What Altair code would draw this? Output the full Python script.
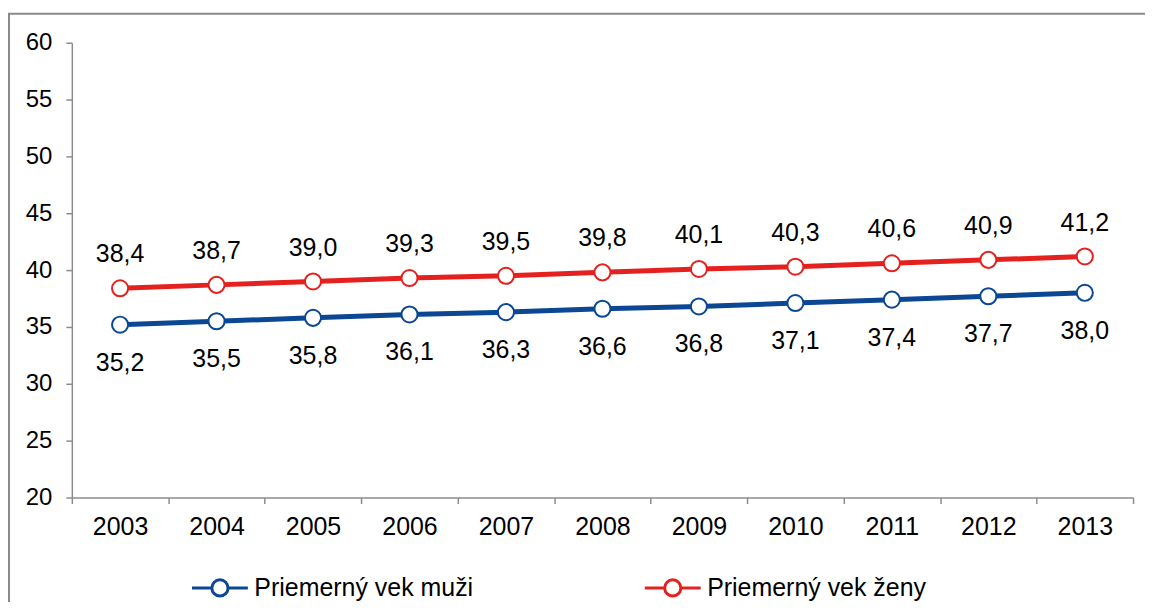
import altair as alt
import pandas as pd

years = ["2003", "2004", "2005", "2006", "2007", "2008", "2009", "2010", "2011", "2012", "2013"]
men = [35.2, 35.5, 35.8, 36.1, 36.3, 36.6, 36.8, 37.1, 37.4, 37.7, 38.0]
women = [38.4, 38.7, 39.0, 39.3, 39.5, 39.8, 40.1, 40.3, 40.6, 40.9, 41.2]
series_names = ["Priemerný vek muži", "Priemerný vek ženy"]
colors = ["#0B4792", "#E4211E"]
y_ticks = [20, 25, 30, 35, 40, 45, 50, 55, 60]

df = pd.DataFrame({
    "rok": years * 2,
    "seria": [series_names[0]] * len(years) + [series_names[1]] * len(years),
    "hodnota": men + women,
})

FONT = "Liberation Sans"
FS = 25
W, H = 1064, 456

x_enc = alt.X("rok:N", sort=years,
              scale=alt.Scale(type="band", paddingInner=0, paddingOuter=0),
              axis=alt.Axis(title=None, labelAngle=0, tickBand="extent", labelFontSize=FS,
                            labelFont=FONT, labelColor="#000000", domainColor="#8C8C8C",
                            tickColor="#8C8C8C", domainWidth=1.5, tickWidth=1.5, tickSize=6,
                            labelPadding=11))
y_enc = alt.Y("hodnota:Q",
              scale=alt.Scale(domain=[20, 60], nice=False, zero=False),
              axis=alt.Axis(title=None, values=y_ticks, grid=False, labelFontSize=24,
                            labelFont=FONT, labelColor="#000000", domainColor="#8C8C8C",
                            tickColor="#8C8C8C", domainWidth=1.5, tickWidth=1.5, tickSize=6,
                            labelPadding=14))

sym_path = ("M-1,0L-0.29,0M0.29,0L1,0"
            "M0.29,0A0.29,0.29,0,1,1,-0.29,0A0.29,0.29,0,1,1,0.29,0Z")

color_scale = alt.Scale(domain=series_names, range=colors)

base = alt.Chart(df)

lines = base.mark_line(strokeWidth=5).encode(
    x=x_enc, y=y_enc,
    color=alt.Color("seria:N", scale=color_scale,
                    legend=alt.Legend(orient="none", legendX=119, legendY=517,
                                      direction="horizontal", title=None,
                                      symbolType=sym_path, symbolSize=3136,
                                      symbolStrokeWidth=3, symbolFillColor="white",
                                      labelFontSize=FS, labelFont=FONT, labelColor="#000000",
                                      labelLimit=0, labelOffset=5, columnPadding=165,
                                      padding=0)),
)

points = base.mark_point(filled=False, fill="white", size=260, strokeWidth=2, opacity=1).encode(
    x=x_enc, y=y_enc,
    color=alt.Color("seria:N", scale=color_scale, legend=None),
)

label_expr = "replace(format(datum.hodnota, '.1f'), '.', ',')"

labels_w = base.transform_filter(alt.datum.seria == series_names[1]).transform_calculate(
    lab=label_expr).mark_text(dy=-34, fontSize=FS, font=FONT, color="#000000").encode(
    x=x_enc, y=y_enc, text="lab:N")

labels_m = base.transform_filter(alt.datum.seria == series_names[0]).transform_calculate(
    lab=label_expr).mark_text(dy=38, fontSize=FS, font=FONT, color="#000000").encode(
    x=x_enc, y=y_enc, text="lab:N")

frame = alt.Chart(pd.DataFrame({"k": [0]})).mark_rect(
    fill=None, stroke="#8A8A8A", strokeWidth=2).encode(
    x=alt.value(-63), x2=alt.value(1300), y=alt.value(-29), y2=alt.value(800))

chart = alt.layer(frame, lines, points, labels_w, labels_m).properties(
    width=W, height=H,
    autosize=alt.AutoSizeParams(type="none"),
    padding={"left": 64, "top": 34, "right": 12, "bottom": 104},
).configure(background="white").configure_view(stroke="transparent", strokeWidth=0)

chart.save("out.html", embed_options={"renderer": "svg", "actions": False})
